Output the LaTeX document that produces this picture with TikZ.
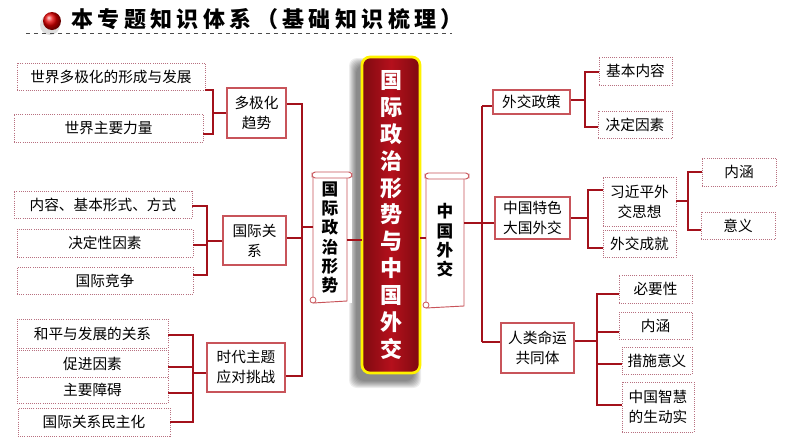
\documentclass[tikz,border=0pt]{standalone}
\usepackage{fontspec}
\setmainfont{Noto Sans CJK SC}
\definecolor{connred}{HTML}{A3111B}
\definecolor{boxred}{HTML}{C8545A}
\definecolor{dotred}{HTML}{B87080}
\definecolor{bigred}{HTML}{B5101C}
\definecolor{bigdark}{HTML}{7E0A10}
\tikzset{
  conn/.style={draw=connred, line width=1.9pt},
  solidbox/.style={draw=boxred, line width=0.8pt, fill=white, align=center, inner sep=0pt,
     font=\fontsize{11pt}{15pt}\selectfont},
  dotbox/.style={draw=dotred, densely dotted, line width=0.6pt, fill=white, align=center, inner sep=0pt,
     font=\fontsize{11pt}{15pt}\selectfont},
  scrollbox/.style={draw=boxred, line width=0.7pt, fill=white, align=center, inner sep=0pt,
     font=\fontsize{12.5pt}{14.5pt}\bfseries},
}
\newcommand\mybox[7]{\node[#6, minimum width={(#4-#2)*0.75pt}, minimum height={(#5-#3)*0.75pt}] (#1) at ({(#2+#4)/2},{(#3+#5)/2}) {#7};}
\newcommand\myscroll[6]{%
  \fill[white] (#2-1,#3) rectangle (#4+5,#5);
  \draw[draw=boxred, line width=0.7pt] (#2,#3+3) -- (#2,#5) (#4,#3+3) -- (#4,#5-2) -- (#2,#5);
  \draw[draw=boxred, line width=0.7pt, fill=white, rounded corners=2.5pt] (#2-1,#3) rectangle (#4+5,#3+6);
  \draw[draw=boxred, line width=0.6pt, fill=white] (#2,#5-3) circle (3);
  \node[scrollbox, draw=none, fill=none, minimum width={(#4-#2)*0.75pt}, minimum height={(#5-#3)*0.75pt}] (#1) at ({(#2+#4)/2},{(#3+#5)/2}) {#6};}
\begin{document}
\begin{tikzpicture}[x=0.75pt,y=-0.75pt]
\useasboundingbox (0,0) rectangle (794,447);
\fill[white] (0,0) rectangle (794,447);
% title
\fill[black!25, opacity=0.5] (50,25) circle (10);
\shade[ball color=red!90!black] (52,21) circle (9);
\node[anchor=west, inner sep=0pt, font=\fontsize{16.5pt}{18pt}\bfseries\addfontfeature{LetterSpace=20}] (title) at (71,19) {本专题知识体系（基础知识梳理）};
\draw[black!70, dashed, line width=0.5pt] (26,33) -- (452,33);

% big box shadow
\foreach \i in {0,...,7}{
  \fill[black, opacity=0.07, rounded corners=6pt] ({362-6-\i},{57+8-\i}) rectangle ({420-6+\i},{373+8+\i});
}
\shade[left color=bigdark, right color=bigdark, middle color=bigred, rounded corners=6pt]
   (362,57) rectangle (420,373);
\draw[draw=yellow, line width=2pt, rounded corners=6pt] (362,57) rectangle (420,373);
\node[text=white, align=center, inner sep=0pt, font=\fontsize{16.5pt}{20.2pt}\bfseries,
      minimum width=43pt, minimum height=237pt] (big) at (391,215)
  {国\\际\\政\\治\\形\\势\\与\\中\\国\\外\\交};

% scrolls
\myscroll{S1}{313}{172}{347}{303}{国\\际\\政\\治\\形\\势}
\myscroll{S2}{426}{173}{464}{308}{中\\国\\外\\交}

% left boxes
\mybox{a1}{17}{63}{205}{90}{dotbox}{世界多极化的形成与发展}
\mybox{a2}{14}{114}{203}{142}{dotbox}{世界主要力量}
\mybox{A}{227}{88}{286}{138}{solidbox}{多极化\\趋势}
\mybox{b1}{14}{191}{192}{218}{dotbox}{内容、基本形式、方式}
\mybox{b2}{17}{229}{193}{257}{dotbox}{决定性因素}
\mybox{b3}{17}{267}{193}{294}{dotbox}{国际竞争}
\mybox{B}{223}{216}{286}{265}{solidbox}{国际关\\系}
\mybox{c1}{17}{319}{168}{348}{dotbox}{和平与发展的关系}
\mybox{c2}{17}{350}{168}{377}{dotbox}{促进因素}
\mybox{c3}{17}{377}{168}{403}{dotbox}{主要障碍}
\mybox{c4}{18}{408}{170}{436}{dotbox}{国际关系民主化}
\mybox{C}{207}{343}{285}{392}{solidbox}{时代主题\\应对挑战}

% right boxes
\mybox{D}{493}{90}{570}{114}{solidbox}{外交政策}
\mybox{d1}{599}{57}{672}{85}{dotbox}{基本内容}
\mybox{d2}{598}{111}{672}{138}{dotbox}{决定因素}
\mybox{E}{495}{197}{570}{239}{solidbox}{中国特色\\大国外交}
\mybox{e1}{603}{177}{676}{226}{dotbox}{习近平外\\交思想}
\mybox{e2}{603}{230}{676}{257}{dotbox}{外交成就}
\mybox{e11}{702}{158}{776}{186}{dotbox}{内涵}
\mybox{e12}{701}{212}{775}{239}{dotbox}{意义}
\mybox{F}{501}{323}{574}{373}{solidbox}{人类命运\\共同体}
\mybox{f1}{619}{275}{692}{303}{dotbox}{必要性}
\mybox{f2}{619}{312}{692}{339}{dotbox}{内涵}
\mybox{f3}{622}{347}{692}{374}{dotbox}{措施意义}
\mybox{f4}{622}{382}{694}{432}{dotbox}{中国智慧\\的生动实}

% junction coordinates
\coordinate (ja1) at (213,90);  \coordinate (ja2) at (213,134);
\coordinate (jb1) at (207,206); \coordinate (jb3) at (207,275);
\coordinate (jc1) at (193,335); \coordinate (jc4) at (193,422);
\coordinate (L1) at (302,104);  \coordinate (L2) at (302,376);
\coordinate (R1) at (482,106);  \coordinate (R0) at (482,223); \coordinate (R2) at (482,342);
\coordinate (jd1) at (585,72);  \coordinate (jd2) at (585,127);
\coordinate (je1) at (588,190); \coordinate (je2) at (588,248);
\coordinate (jg1) at (688,172); \coordinate (jg2) at (688,230);
\coordinate (jf1) at (597,294); \coordinate (jf4) at (597,405);

% left connectors
\draw[conn] (a1.east |- ja1) -- (ja1) -- (ja2) -- (a2.east |- ja2);
\draw[conn] (A.west) -- (A.west -| ja1);
\draw[conn] (b1.east |- jb1) -- (jb1) -- (jb3) -- (b3.east |- jb3);
\draw[conn] (b2.east |- 0,245) -- (jb1 |- 0,245);
\draw[conn] (B.west |- 0,241) -- (jb1 |- 0,241);
\draw[conn] (c1.east |- jc1) -- (jc1) -- (jc4) -- (c4.east |- jc4);
\draw[conn] (c2.east |- 0,367) -- (jc1 |- 0,367);
\draw[conn] (c3.east |- 0,393) -- (jc1 |- 0,393);
\draw[conn] (C.west |- 0,373) -- (jc1 |- 0,373);
\draw[conn] (A.east |- L1) -- (L1) -- (L2) -- (C.east |- L2);
\draw[conn] (B.east |- 0,238) -- (L1 |- 0,238);
\draw[conn] (L1 |- 0,227) -- (S1.west |- 0,227);
\draw[conn] (S1.east |- 0,240) -- (big.west |- 0,240);
% right connectors
\draw[conn] (big.east |- 0,238) -- (S2.west |- 0,238);
\draw[conn] (S2.east |- R0) -- (R0) -- (E.west |- R0);
\draw[conn] (R1) -- (R2);
\draw[conn] (R1) -- (D.west |- R1);
\draw[conn] (R2) -- (F.west |- R2);
\draw[conn] (d1.west |- jd1) -- (jd1) -- (jd2) -- (d2.west |- jd2);
\draw[conn] (D.east |- 0,100) -- (jd1 |- 0,100);
\draw[conn] (e1.west |- je1) -- (je1) -- (je2) -- (e2.west |- je2);
\draw[conn] (E.east |- 0,218) -- (je1 |- 0,218);
\draw[conn] (e11.west |- jg1) -- (jg1) -- (jg2) -- (e12.west |- jg2);
\draw[conn] (e1.east |- 0,201) -- (jg1 |- 0,201);
\draw[conn] (f1.west |- jf1) -- (jf1) -- (jf4) -- (f4.west |- jf4);
\draw[conn] (f2.west |- 0,332) -- (jf1 |- 0,332);
\draw[conn] (f3.west |- 0,364) -- (jf1 |- 0,364);
\draw[conn] (F.east |- 0,341) -- (jf1 |- 0,341);
\end{tikzpicture}
\end{document}
